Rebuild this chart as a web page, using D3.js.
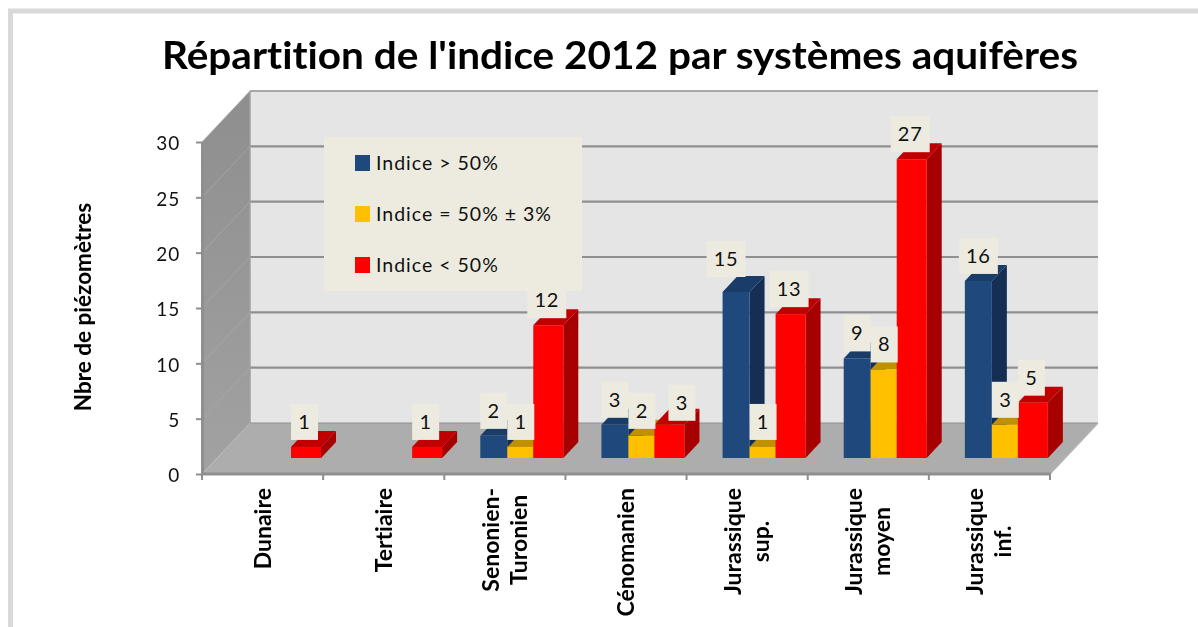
<!DOCTYPE html>
<html>
<head>
<meta charset="utf-8">
<script src="https://cdn.jsdelivr.net/npm/d3@7"></script>
<style>
  html, body { margin: 0; background: #fff; }
  svg { display: block; font-family: Lato, sans-serif; font-variant-ligatures: none; filter: blur(0.45px); }
</style>
</head>
<body>
<svg id="chart" width="1198" height="627"></svg>
<script>
const categories = [
  ["Dunaire"],
  ["Tertiaire"],
  ["Senonien-", "Turonien"],
  ["Cénomanien"],
  ["Jurassique", "sup."],
  ["Jurassique", "moyen"],
  ["Jurassique", "inf."],
];
const seriesNames = ["Indice > 50%", "Indice = 50% ± 3%", "Indice < 50%"];
const above = [null, null, 2, 3, 15, 9, 16];
const around = [null, null, 1, 2, 1, 8, 3];
const below = [1, 1, 12, 3, 13, 27, 5];
const yTicks = [0, 5, 10, 15, 20, 25, 30];

const frontColors = ["#1f497d", "#ffc000", "#ff0000"];
const topColors = ["#1a3c68", "#bf9000", "#c00000"];
const sideColors = ["#152f54", "#a67c00", "#a60000"];

const svg = d3.select("#chart");

// front plane of the 3d box, the back wall is the same plane moved by wall
const x = d3.scaleBand().domain(d3.range(categories.length)).range([202, 1050]);
const y = d3.scaleLinear().domain([0, 30]).range([474, 142]);
const wall = { dx: 48, dy: -51 };
const depth = { dx: 15, dy: -16 };

// the three bars of a group are not quite the same width in the picture
const barStart = d3.scaleOrdinal().domain([0, 1, 2]).range([36, 63, 89]);
const barWidth = d3.scaleOrdinal().domain([0, 1, 2]).range([27, 26, 30]);

// labels that were dragged off their bar: [category, series] -> nudge
const nudges = new Map([
  ["4-0", { dx: -10, dy: -8 }],
  ["3-2", { dx: 14, dy: 3 }],
]);

const left = x.range()[0];
const right = x.range()[1];

// border
svg.append("path")
  .attr("d", "M10.5,627 V11 H1198")
  .attr("fill", "none")
  .attr("stroke", "#d9d9d9")
  .attr("stroke-width", 5);

svg.append("text")
  .attr("x", 620)
  .attr("y", 69)
  .attr("text-anchor", "middle")
  .attr("font-size", 38)
  .attr("font-weight", 700)
  .attr("fill", "#000")
  .attr("textLength", 916)
  .attr("lengthAdjust", "spacingAndGlyphs")
  .text("Répartition de l'indice 2012 par systèmes aquifères");

const defs = svg.append("defs");
const grad = defs.append("linearGradient")
  .attr("id", "sideWall")
  .attr("x1", 0).attr("x2", 0).attr("y1", 0).attr("y2", 1);
grad.append("stop").attr("offset", 0).attr("stop-color", "#8e8e8e");
grad.append("stop").attr("offset", 1).attr("stop-color", "#a2a2a2");

// back wall
svg.append("rect")
  .attr("x", left + wall.dx)
  .attr("y", y(30) + wall.dy)
  .attr("width", right - left)
  .attr("height", y(0) - y(30))
  .attr("fill", "#e5e5e5");

// left wall
svg.append("path")
  .attr("d", `M${left},${y(0)} V${y(30)} L${left + wall.dx},${y(30) + wall.dy} V${y(0) + wall.dy} Z`)
  .attr("fill", "url(#sideWall)");

svg.append("g")
  .selectAll("line")
  .data(yTicks.slice(1))
  .join("line")
  .attr("x1", left)
  .attr("y1", (d) => y(d))
  .attr("x2", left + wall.dx)
  .attr("y2", (d) => y(d) + wall.dy)
  .attr("stroke", "#a8a8a8")
  .attr("stroke-width", 0.8);

// gridlines on the back wall
svg.append("g")
  .selectAll("line")
  .data(yTicks.slice(1))
  .join("line")
  .attr("x1", left + wall.dx)
  .attr("x2", right + wall.dx)
  .attr("y1", (d) => y(d) + wall.dy)
  .attr("y2", (d) => y(d) + wall.dy)
  .attr("stroke", "#8f8f8f")
  .attr("stroke-width", (d) => (d === 30 ? 1.5 : 2.2));

svg.append("line")
  .attr("x1", left + wall.dx)
  .attr("x2", left + wall.dx)
  .attr("y1", y(30) + wall.dy)
  .attr("y2", y(0) + wall.dy)
  .attr("stroke", "#a0a0a0")
  .attr("stroke-width", 1.5);

// floor
svg.append("path")
  .attr("d", `M${left},${y(0)} L${left + wall.dx},${y(0) + wall.dy} H${right + wall.dx} L${right},${y(0)} Z`)
  .attr("fill", "#adadad");
svg.append("line")
  .attr("x1", left + wall.dx)
  .attr("x2", right + wall.dx)
  .attr("y1", y(0) + wall.dy)
  .attr("y2", y(0) + wall.dy)
  .attr("stroke", "#8f8f8f")
  .attr("stroke-width", 1.2);
svg.append("line")
  .attr("x1", right)
  .attr("y1", y(0))
  .attr("x2", right + wall.dx)
  .attr("y2", y(0) + wall.dy)
  .attr("stroke", "#b4b4b4")
  .attr("stroke-width", 1.5);

// axes
const yAxis = svg.append("g")
  .attr("transform", `translate(${left},0)`)
  .call(d3.axisLeft(y).tickValues(yTicks).tickSize(6).tickSizeOuter(0).tickPadding(16))
  .call((g) => g.select(".domain").attr("stroke", "#8f8f8f").attr("stroke-width", 3));
yAxis.selectAll(".tick line").attr("stroke", "#8f8f8f").attr("stroke-width", 2);
yAxis.selectAll(".tick text")
  .attr("font-family", "Lato, sans-serif")
  .attr("font-size", 19)
  .attr("letter-spacing", 0.8)
  .attr("dy", "0.42em")
  .attr("fill", "#111");

const xAxis = svg.append("g")
  .attr("transform", `translate(0,${y(0)})`);
xAxis.append("line")
  .attr("x1", left - 1)
  .attr("x2", right + 1)
  .attr("stroke", "#8f8f8f")
  .attr("stroke-width", 3);
xAxis.selectAll("line.tick")
  .data(d3.range(categories.length + 1))
  .join("line")
  .attr("class", "tick")
  .attr("x1", (i) => left + i * x.bandwidth())
  .attr("x2", (i) => left + i * x.bandwidth())
  .attr("y1", 0)
  .attr("y2", 6)
  .attr("stroke", "#8f8f8f")
  .attr("stroke-width", 2);

// category labels, rotated and centred as a block under their band
const catLabels = svg.append("g")
  .selectAll("g")
  .data(categories)
  .join("g")
  .attr("transform", (d, i) => `translate(${x(i) + x.bandwidth() / 2},488) rotate(-90)`);
catLabels.each(function (lines) {
  const g = d3.select(this);
  const texts = g.selectAll("text")
    .data(lines)
    .join("text")
    .attr("font-size", 23)
    .attr("font-weight", 700)
    .attr("fill", "#000")
    .attr("text-anchor", "middle")
    .attr("y", (d, i) => (i - (lines.length - 1) / 2) * 28 + 8)
    .text((d) => d);
  const longest = d3.max(texts.nodes(), (n) => n.getComputedTextLength());
  texts.attr("x", -longest / 2);
});

svg.append("text")
  .attr("transform", "translate(91,307) rotate(-90)")
  .attr("text-anchor", "middle")
  .attr("font-size", 22.5)
  .attr("font-weight", 700)
  .attr("fill", "#000")
  .text("Nbre de piézomètres");

// bars
const series = [above, around, below];
const rows = [];
categories.forEach((c, i) => {
  series.forEach((values, s) => {
    if (values[i] != null) rows.push({ i, s, value: values[i] });
  });
});

const barX = (d) => x(d.i) + barStart(d.s);
const barY = (d) => y(d.value) + depth.dy;
const baseY = y(0) + depth.dy;

const bars = svg.append("g")
  .selectAll("g")
  .data(rows)
  .join("g");

bars.append("path")
  .attr("fill", (d) => sideColors[d.s])
  .attr("d", (d) => {
    const r = barX(d) + barWidth(d.s);
    return `M${r},${baseY} V${barY(d)} l${depth.dx},${depth.dy} V${baseY + depth.dy} Z`;
  });
bars.append("path")
  .attr("fill", (d) => topColors[d.s])
  .attr("d", (d) => `M${barX(d)},${barY(d)} l${depth.dx},${depth.dy} h${barWidth(d.s)} l${-depth.dx},${-depth.dy} Z`);
bars.append("rect")
  .attr("fill", (d) => frontColors[d.s])
  .attr("x", barX)
  .attr("y", barY)
  .attr("width", (d) => barWidth(d.s))
  .attr("height", (d) => baseY - barY(d));

// data labels with their pale boxes
const labels = svg.append("g")
  .selectAll("g")
  .data(rows)
  .join("g")
  .attr("transform", (d) => {
    const n = nudges.get(`${d.i}-${d.s}`) || { dx: 0, dy: 0 };
    return `translate(${barX(d) + 13.5 + n.dx},${barY(d) - 7 + n.dy})`;
  });
labels.append("rect")
  .attr("x", (d) => (d.value > 9 ? -19.5 : -13.5))
  .attr("y", -36)
  .attr("width", (d) => (d.value > 9 ? 39 : 27))
  .attr("height", 36)
  .attr("fill", "#edebe0");
labels.append("text")
  .attr("y", -11)
  .attr("text-anchor", "middle")
  .attr("font-size", 20)
  .attr("letter-spacing", 0.8)
  .attr("fill", "#111")
  .text((d) => d.value);

// legend
const legend = svg.append("g");
legend.append("rect")
  .attr("x", 324)
  .attr("y", 137)
  .attr("width", 258)
  .attr("height", 154)
  .attr("fill", "#edebe0");
const legendY = d3.scalePoint().domain(seriesNames).range([163, 265]);
const items = legend.selectAll("g")
  .data(seriesNames)
  .join("g")
  .attr("transform", (d) => `translate(355,${legendY(d)})`);
items.append("rect")
  .attr("y", -8)
  .attr("width", 15)
  .attr("height", 16)
  .attr("fill", (d, i) => frontColors[i]);
items.append("text")
  .attr("x", 21)
  .attr("y", 7)
  .attr("font-size", 19.5)
  .attr("letter-spacing", 1)
  .attr("fill", "#111")
  .text((d) => d);
</script>
</body>
</html>
